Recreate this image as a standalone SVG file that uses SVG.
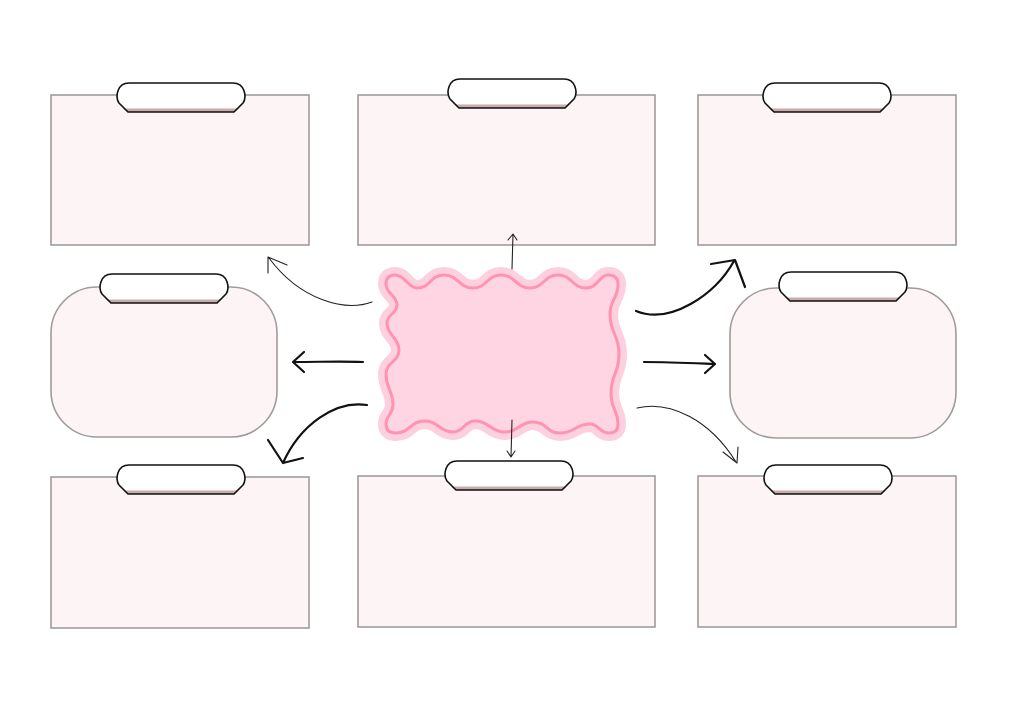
<svg xmlns="http://www.w3.org/2000/svg" xmlns:xlink="http://www.w3.org/1999/xlink" width="1024" height="724" viewBox="0 0 1024 724">
<style>
.box{fill:#fdf4f5;stroke:#a19b9b;stroke-width:1.6}
.tabfill{fill:#ffffff}
.tabshadow{fill:#c8abab}
.tabline{fill:none;stroke:#111;stroke-width:1.6;stroke-linejoin:round}
.thin{fill:none;stroke:#222;stroke-width:1.1;stroke-linecap:round;stroke-linejoin:round}
.thick{fill:none;stroke:#111;stroke-width:2.2;stroke-linecap:round;stroke-linejoin:round}
</style>
<defs>
<g id="tab">
<path class="tabfill" d="M12,0 H116 C128,0 130,14 126,20 L117,29 H11 L2,20 C-2,14 0,0 12,0 Z"/>
<path class="tabshadow" d="M6,25.5 H122 L117,29 H11 Z"/>
<path class="tabline" d="M12,0 H116 C128,0 130,14 126,20 L117,29 H11 L2,20 C-2,14 0,0 12,0 Z"/>
</g>
<path id="wave" d="M386,284 Q386,275 395,275 C405,275 408,288 417,288 C431,288 430,275 444,275 C458,275 459,288 473,288 C487,288 487,275 501,275 C515,275 516,288 530,288 C544,288 544,275 558,275 C572,275 572,288 586,288 C598,288 599,275 608,275 Q618,275 618,284 C618,299 610,299 610,314 C610,334 619,334 619,354 C619,374 611,374 611,393 C611,410 618,410 618,424 Q618,433 609,433 C599,433 599,424 590,424 C575,424 575,433 560,433 C546,433 547,422 533,422 C519,422 519,432 505,432 C490,432 490,421 475,421 C464,421 464,432 453,432 C439,432 439,421 425,421 C410,421 410,433 396,433 Q386,433 386,424 C386,415 393,414 393,405 C393,390 386,389 386,374 C386,362 399,362 399,350 C399,337 387,336 387,323 C387,314 397,314 397,305 C397,295 386,294 386,284 Z"/>
</defs>
<rect width="1024" height="724" fill="#ffffff"/>

<g id="node-top-left">
<rect class="box" x="51" y="95" width="258" height="150"/>
<use xlink:href="#tab" x="117" y="83"/>
</g>
<g id="node-top-center">
<rect class="box" x="358" y="95" width="297" height="150"/>
<use xlink:href="#tab" x="448" y="79"/>
</g>
<g id="node-top-right">
<rect class="box" x="698" y="95" width="258" height="150"/>
<use xlink:href="#tab" x="763" y="83"/>
</g>
<g id="node-mid-left">
<rect class="box" x="51" y="287" width="226" height="150" rx="46" ry="46"/>
<use xlink:href="#tab" x="100" y="274"/>
</g>
<g id="node-mid-right">
<rect class="box" x="730" y="288" width="226" height="150" rx="46" ry="46"/>
<use xlink:href="#tab" x="779" y="272"/>
</g>
<g id="node-bottom-left">
<rect class="box" x="51" y="477" width="258" height="151"/>
<use xlink:href="#tab" x="117" y="465"/>
</g>
<g id="node-bottom-center">
<rect class="box" x="358" y="476" width="297" height="151"/>
<use xlink:href="#tab" x="445" y="461"/>
</g>
<g id="node-bottom-right">
<rect class="box" x="698" y="476" width="258" height="151"/>
<use xlink:href="#tab" x="764" y="465"/>
</g>

<g id="node-center">
<use xlink:href="#wave" fill="#fdd0df" stroke="#fdd0df" stroke-width="16" stroke-linejoin="round"/>
<use xlink:href="#wave" fill="#ffd5e3" stroke="#ff93b2" stroke-width="3" stroke-linejoin="round"/>
</g>

<g id="connectors">
<path class="thin" d="M512,269 L513,234 M508,240 L513,234 L517,240"/>
<path class="thin" d="M512,420 L511,457 M507,451 L511,457 L515,451"/>
<path class="thin" d="M372,302 C345,312 300,300 269,258 M268,273 L268,257 L287,265"/>
<path class="thick" d="M363,362 C340,361 320,362 294,362 M304,352 L293,362 L304,372"/>
<path class="thick" d="M367,405 C335,400 300,425 283,463 M268,440 L283,463 L303,458"/>
<path class="thick" d="M636,311 C670,325 715,295 734,261 M711,264 L735,260 L745,287"/>
<path class="thick" d="M644,362 C670,362 690,363 714,364 M705,355 L715,364 L705,373"/>
<path class="thin" d="M637,408 C670,400 710,420 736,462 M723,452 L737,463 L738,447"/>
</g>
</svg>
